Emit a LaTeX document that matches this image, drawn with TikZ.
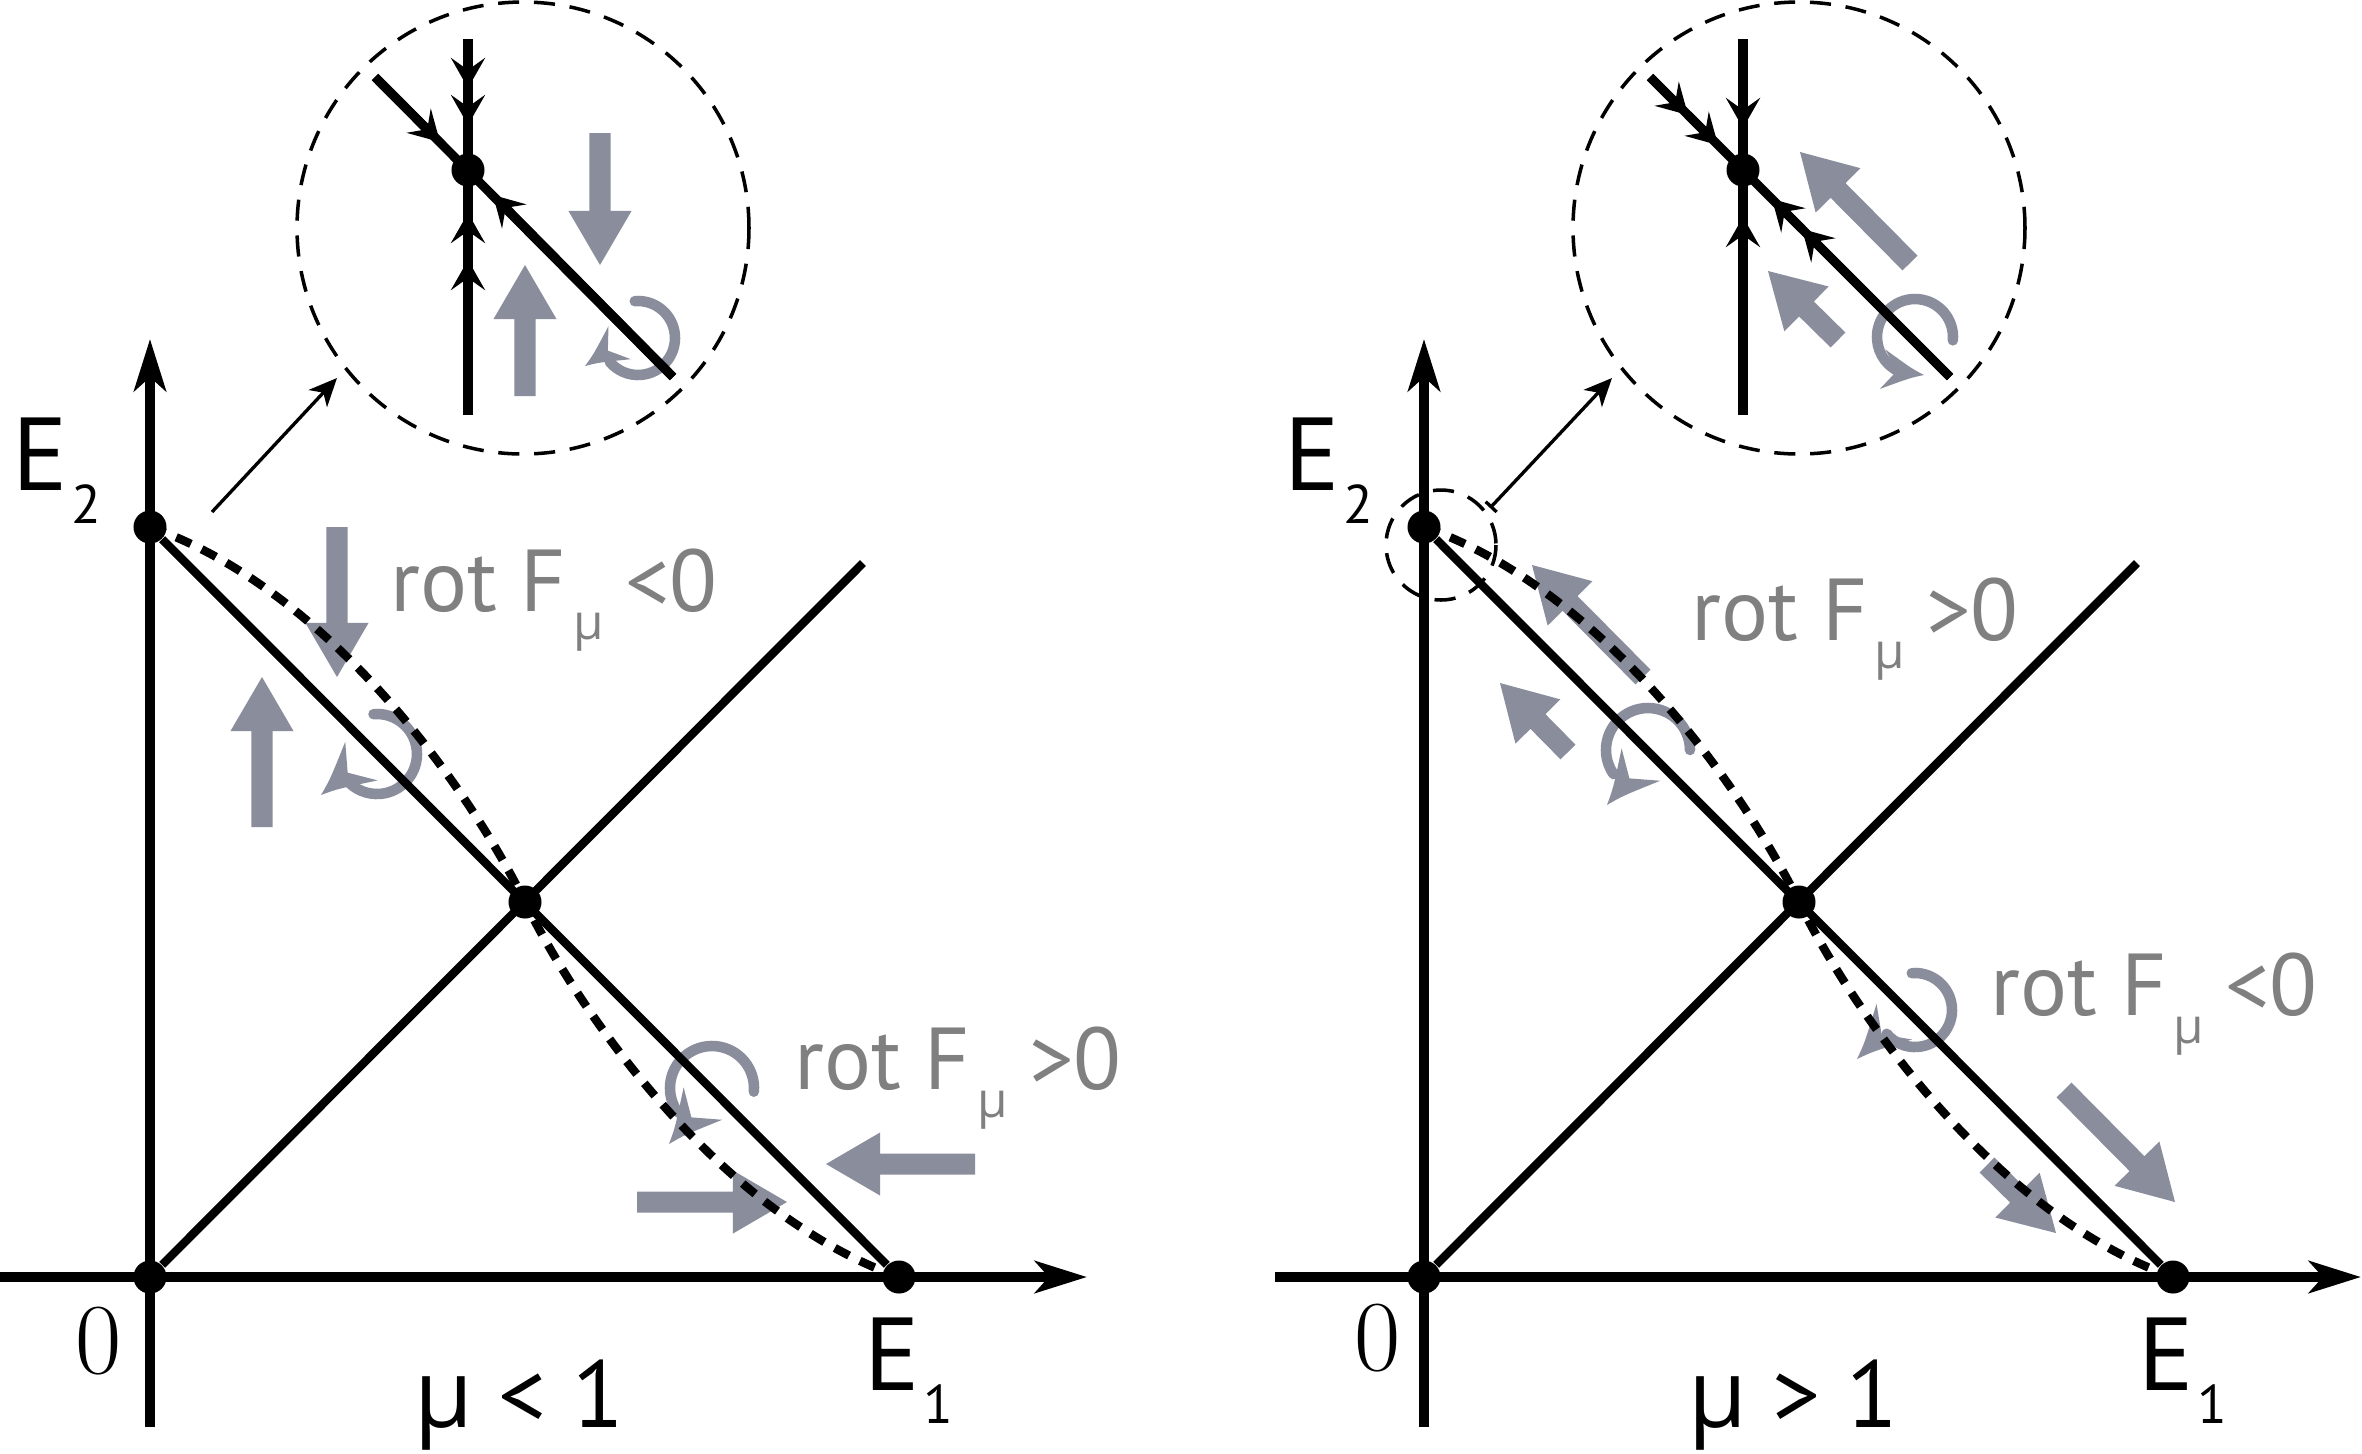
\documentclass[tikz,border=0pt]{standalone}
\usepackage{fontspec}
\newfontfamily\sansf{PT Sans}
\newfontfamily\grkf{Open Sans}
\usetikzlibrary{arrows.meta,calc}
\definecolor{agray}{RGB}{138,142,156}
\definecolor{tgray}{RGB}{128,128,128}
\newcommand\blk[2]{%
  \coordinate (bkb) at ($(#2)!0.54cm!(#1)$);
  \fill[agray] ($(#1)!0.105cm!90:(#2)$) -- ($(bkb)!0.105cm!90:(#2)$) -- ($(bkb)!0.315cm!90:(#2)$) -- (#2) -- ($(bkb)!0.315cm!-90:(#2)$) -- ($(bkb)!0.105cm!-90:(#2)$) -- ($(#1)!0.105cm!-90:(#2)$) -- cycle;}
\newcommand\chead[3]{%
  \fill[agray, shift={(#1)}, rotate=#2, scale=#3] (0,0) .. controls (-14,-5) .. (-44,-21) -- (-29,0) -- (-44,21) .. controls (-14,5) .. (0,0) -- cycle;}
\tikzset{
  axis/.style={line width=2.6pt, -{Stealth[length=0.52cm,width=0.32cm,inset=0.14cm]}},
  mline/.style={line width=2.4pt},
  iline/.style={line width=2.6pt},
  itip/.style={-{Stealth[length=0.3cm,width=0.34cm,inset=0.12cm]}},
  dcurve/.style={line width=2.4pt, dash pattern=on 4.6pt off 3.4pt},
  zoomc/.style={line width=1pt, dash pattern=on 6pt off 4.2pt},
  thinl/.style={line width=0.95pt},
  thintip/.style={-{Stealth[length=0.28cm,width=0.25cm,inset=0.08cm]}},
  dot/.style={circle, fill=black, inner sep=0pt, minimum size=0.33cm},
  idot/.style={circle, fill=black, inner sep=0pt, minimum size=0.33cm},
  curl/.style={agray, line width=3pt, line cap=round},
  rotlab/.style={anchor=base west, inner sep=0pt, text=tgray, font=\sansf\fontsize{25}{30}\selectfont},
  elab/.style={anchor=base west, inner sep=0pt, font=\sansf\fontsize{29.5}{34}\selectfont},
  zlab/.style={anchor=base, inner sep=0pt, font=\fontsize{28.6}{34}\selectfont\addfontfeature{FakeBold=1.2}},
  mulab/.style={anchor=base west, inner sep=0pt, font=\sansf\fontsize{27}{32}\selectfont}
}
\begin{document}
\begin{tikzpicture}[x=0.01cm,y=-0.01cm]
\useasboundingbox[fill=white] (0,0) rectangle (2362,1453);

% ---------------- coordinates, left panel
\coordinate (Ly0) at (150,1427); \coordinate (Ly1) at (150,339);
\coordinate (Lx0) at (0,1277);   \coordinate (Lx1) at (1087,1277);
\coordinate (LD) at (863,563);
\coordinate (LTa) at (212,512);  \coordinate (LTb) at (337,378);
\coordinate (LZc) at (523,228);
\coordinate (LVt) at (468,39);  \coordinate (LVb) at (468,415);
\coordinate (LDa) at (375,77);  \coordinate (LDb) at (673,377);
\coordinate (La1) at (468,88);  \coordinate (La2) at (468,125);
\coordinate (La3) at (468,213); \coordinate (La4) at (468,260);
\coordinate (La5) at (440,142); \coordinate (La6) at (493,195);
% ---------------- coordinates, right panel
\coordinate (Ry0) at (1424,1427); \coordinate (Ry1) at (1424,339);
\coordinate (Rx0) at (1275,1277); \coordinate (Rx1) at (2361,1277);
\coordinate (RD) at (2137,563);
\coordinate (RTa) at (1490,508);  \coordinate (RTb) at (1612,378);
\coordinate (RZc) at (1799,228);  \coordinate (RSc) at (1441,545);
\coordinate (RVt) at (1743,39);  \coordinate (RVb) at (1743,415);
\coordinate (RDa) at (1650,77);  \coordinate (RDb) at (1950,377);
\coordinate (Ra1) at (1743,128); \coordinate (Ra2) at (1743,217);
\coordinate (Ra3) at (1688,115); \coordinate (Ra4) at (1718,145);
\coordinate (Ra5) at (1772,199); \coordinate (Ra6) at (1802,229);

% ---------------- gray block arrows
\coordinate (Lg1t) at (337,527);  \coordinate (Lg1h) at (337,677);
\coordinate (Lg2t) at (262,827);  \coordinate (Lg2h) at (262,677);
\coordinate (Lg3t) at (975,1164); \coordinate (Lg3h) at (826,1164);
\coordinate (Lg4t) at (637,1202); \coordinate (Lg4h) at (787,1202);
\coordinate (Lg5t) at (600,133);  \coordinate (Lg5h) at (600,265);
\coordinate (Lg6t) at (525,396);  \coordinate (Lg6h) at (525,265);
\coordinate (Rg1t) at (1643,677); \coordinate (Rg1h) at (1532,565);
\coordinate (Rg2t) at (1568,752); \coordinate (Rg2h) at (1500,683);
\coordinate (Rg3t) at (2064,1090);\coordinate (Rg3h) at (2175,1202);
\coordinate (Rg4t) at (1987,1165);\coordinate (Rg4h) at (2056,1233);
\coordinate (Rg5t) at (1910,263); \coordinate (Rg5h) at (1800,152);
\coordinate (Rg6t) at (1838,340); \coordinate (Rg6h) at (1768,271);
\blk{Lg1t}{Lg1h} \blk{Lg2t}{Lg2h} \blk{Lg3t}{Lg3h} \blk{Lg4t}{Lg4h}
\blk{Lg5t}{Lg5h} \blk{Lg6t}{Lg6h}
\blk{Rg1t}{Rg1h} \blk{Rg2t}{Rg2h} \blk{Rg3t}{Rg3h} \blk{Rg4t}{Rg4h}
\blk{Rg5t}{Rg5h} \blk{Rg6t}{Rg6h}

% ---------------- curls
\coordinate (cA) at (638,338);  \coordinate (hA) at (585,366);
\coordinate (cB) at (377,754);  \coordinate (hB) at (321,795);
\coordinate (cC) at (712,1088); \coordinate (hC) at (669,1144);
\coordinate (cD) at (1648,750); \coordinate (hD) at (1607,805);
\coordinate (cE) at (1915,1010);\coordinate (hE) at (1857,1059);
\coordinate (cF) at (1915,337); \coordinate (hF) at (1924,375);
\draw[curl] (cA) ++(-95:37) arc[start angle=-95, end angle=140, radius=37];
\chead{hA}{-146}{0.95}
\draw[curl] (cB) ++(-95:40) arc[start angle=-95, end angle=140, radius=40];
\chead{hB}{-140}{1.2}
\draw[curl] (cC) ++(5:42) arc[start angle=5, end angle=-215, radius=42];
\chead{hC}{-130}{1.2}
\draw[curl] (cD) ++(0:42) arc[start angle=0, end angle=-215, radius=42];
\chead{hD}{-130}{1.2}
\draw[curl] (cE) ++(-95:37) arc[start angle=-95, end angle=140, radius=37];
\chead{hE}{-135}{1.2}
\draw[curl] (cF) ++(5:38) arc[start angle=5, end angle=-245, radius=38];
\chead{hF}{-8}{0.95}

% ---------------- left panel, black
\node[dot] (LO) at (150,1277) {};
\node[dot] (LE2) at (150,527) {};
\node[dot] (LE1) at (899,1277) {};
\node[dot] (LM) at (525,902) {};
\draw[axis] (Ly0) -- (Ly1);
\draw[axis] (Lx0) -- (Lx1);
\draw[mline] (LO) -- (LD);
\draw[mline] (LE2) -- (LE1);
\draw[dcurve] (LE2.center) .. controls (330,590) and (470,790) .. (LM.center)
   .. controls (580,1014) and (720,1214) .. (LE1.center);
\draw[thinl, thintip] (LTa) -- (LTb);
\draw[zoomc] (LZc) circle[radius=226];
\draw[iline] (LVt) -- (LVb);
\draw[iline] (LDa) -- (LDb);
\draw[iline, itip] (LVt) -- (La1);
\draw[iline, itip] (La1) -- (La2);
\draw[iline, itip] (LVb) -- (La4);
\draw[iline, itip] (La4) -- (La3);
\draw[iline, itip] (LDa) -- (La5);
\draw[iline, itip] (LDb) -- (La6);
\node[idot] (LZd) at (468,170) {};

% ---------------- right panel, black
\node[dot] (RO) at (1424,1277) {};
\node[dot] (RE2) at (1424,527) {};
\node[dot] (RE1) at (2173,1277) {};
\node[dot] (RM) at (1799,902) {};
\draw[axis] (Ry0) -- (Ry1);
\draw[axis] (Rx0) -- (Rx1);
\draw[mline] (RO) -- (RD);
\draw[mline] (RE2) -- (RE1);
\draw[dcurve] (RE2.center) .. controls (1604,590) and (1744,790) .. (RM.center)
   .. controls (1854,1014) and (1994,1214) .. (RE1.center);
\draw[zoomc] (RSc) circle[radius=55];
\draw[thinl, {Bar[width=0.15cm]}-{Stealth[length=0.28cm,width=0.25cm,inset=0.08cm]}] (RTa) -- (RTb);
\draw[zoomc] (RZc) circle[radius=226];
\draw[iline] (RVt) -- (RVb);
\draw[iline] (RDa) -- (RDb);
\draw[iline, itip] (RVt) -- (Ra1);
\draw[iline, itip] (RVb) -- (Ra2);
\draw[iline, itip] (RDa) -- (Ra3);
\draw[iline, itip] (Ra3) -- (Ra4);
\draw[iline, itip] (RDb) -- (Ra6);
\draw[iline, itip] (Ra6) -- (Ra5);
\node[idot] (RZd) at (1743,170) {};

% ---------------- labels
\node[elab] (tLE2) at (12,490) {E\kern1pt\raisebox{-9.4pt}{\fontsize{15.5}{18}\selectfont 2}};
\node[elab] (tRE2) at (1284,490) {E\kern1pt\raisebox{-9.4pt}{\fontsize{15.5}{18}\selectfont 2}};
\node[elab] (tLE1) at (864,1390) {E\kern1pt\raisebox{-9.4pt}{\fontsize{15.5}{18}\selectfont 1}};
\node[elab] (tRE1) at (2138,1390) {E\kern1pt\raisebox{-9.4pt}{\fontsize{15.5}{18}\selectfont 1}};
\node[zlab] (tL0) at (99,1373) {0};
\node[zlab] (tR0) at (1378,1370) {0};
\node[mulab] (tLmu) at (414,1427) {{\grkf μ} < 1};
\node[mulab] (tRmu) at (1688,1427) {{\grkf μ} > 1};
\node[rotlab] (tLr1) at (390,611) {rot F\kern2pt\raisebox{-8pt}{\grkf\fontsize{14}{16}\selectfont μ}\kern6pt<0};
\node[rotlab] (tLr2) at (794,1089) {rot F\kern2pt\raisebox{-8pt}{\grkf\fontsize{14}{16}\selectfont μ}\kern6pt>0};
\node[rotlab] (tRr1) at (1691,640) {rot F\kern2pt\raisebox{-8pt}{\grkf\fontsize{14}{16}\selectfont μ}\kern6pt>0};
\node[rotlab] (tRr2) at (1990,1015) {rot F\kern2pt\raisebox{-8pt}{\grkf\fontsize{14}{16}\selectfont μ}\kern6pt<0};
\end{tikzpicture}
\end{document}
